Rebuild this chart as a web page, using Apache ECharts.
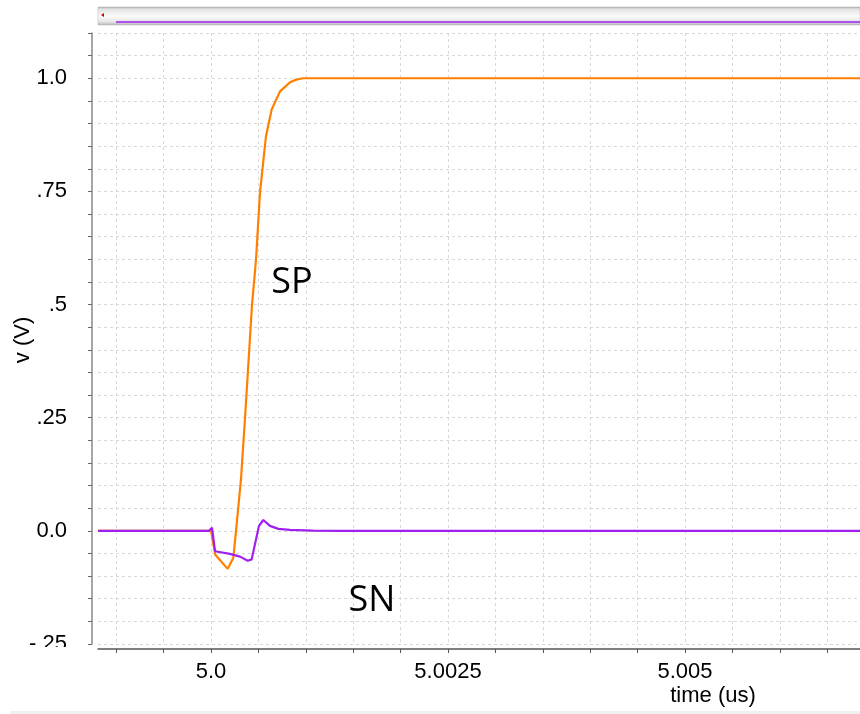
<!DOCTYPE html>
<html>
<head>
<meta charset="utf-8">
<script src="https://cdn.jsdelivr.net/npm/echarts@6/dist/echarts.min.js"></script>
<style>html,body{margin:0;padding:0;background:#fff}#c{width:860px;height:714px}</style>
</head>
<body>
<div id="c"></div>
<script>
// ---- data (time in us, voltage in V) ----
var spTime = [4.998808, 5.0, 5.00001, 5.0000454, 5.000176, 5.000235, 5.000264, 5.000316, 5.000359, 5.000433, 5.000475, 5.000517, 5.00058, 5.00064, 5.000728, 5.000833, 5.0009, 5.00097, 5.006846];
var spVolt = [0, 0, 0, -0.053, -0.084, -0.06, 0, 0.113, 0.25, 0.5, 0.6, 0.748, 0.872, 0.931, 0.971, 0.991, 0.997, 1.0, 1.0];
var snTime = [4.998808, 4.999979, 5.0000105, 5.0000422, 5.0000527, 5.0002, 5.000306, 5.000387, 5.000429, 5.000506, 5.000552, 5.000622, 5.00071, 5.000833, 5.001076, 5.001361, 5.006846];
var snVolt = [0, 0, 0.007, -0.045, -0.047, -0.051, -0.057, -0.066, -0.063, 0.011, 0.024, 0.011, 0.0044, 0.002, 0.0007, 0, 0];

var xTickValues = [5.0, 5.0025, 5.005];
var xTickLabels = ['5.0', '5.0025', '5.005'];
var yTickValues = [-0.25, 0, 0.25, 0.5, 0.75, 1.0];
var yTickLabels = ['-.25', '0.0', '.25', '.5', '.75', '1.0'];

var xMin = 4.998808, xMax = 5.006846, xStep = 0.0005;
var yMin = -0.25, yMax = 1.1, yStep = 0.05;

function steps(from, step, lo, hi) {
  var out = [];
  for (var k = Math.ceil((lo - from) / step - 1e-9); from + k * step <= hi + 1e-12; k++) {
    out.push(Math.round((from + k * step) * 1e7) / 1e7);
  }
  return out;
}
var xMinorTicks = steps(5.0, xStep, xMin, xMax);
var yMinorTicks = steps(0, yStep, yMin, yMax);

function pairs(xs, ys) { return xs.map(function (x, i) { return [x, ys[i]]; }); }
function labelFor(vals, labels) {
  return function (v) {
    for (var i = 0; i < vals.length; i++) if (Math.abs(vals[i] - v) < 1e-9) return labels[i];
    return '';
  };
}

var FONT = '"Liberation Sans", Arial, sans-serif';
var chart = echarts.init(document.getElementById('c'), null, {renderer: 'canvas'});
chart.setOption({
  animation: false,
  backgroundColor: '#ffffff',
  grid: {left: 98, top: 33, right: 0, bottom: 70, containLabel: false, outerBoundsMode: 'none'},
  xAxis: {
    type: 'value', min: xMin, max: xMax, offset: 5,
    axisLine: {show: true, onZero: false, lineStyle: {color: '#555', width: 1.5}},
    axisTick: {show: true, inside: false, length: 4, customValues: xMinorTicks, lineStyle: {color: '#555', width: 1}},
    axisLabel: {show: true, customValues: xTickValues, formatter: labelFor(xTickValues, xTickLabels),
      color: '#000', fontSize: 22, fontFamily: FONT, margin: 12, hideOverlap: false, showMinLabel: true, showMaxLabel: true},
    splitLine: {show: true, lineStyle: {color: '#d8d8d8', type: [3, 3], width: 1}}
  },
  yAxis: {
    type: 'value', min: yMin, max: yMax, offset: 6,
    axisLine: {show: true, onZero: false, lineStyle: {color: '#888', width: 1.5}},
    axisTick: {show: true, inside: false, length: 4, customValues: yMinorTicks, lineStyle: {color: '#666', width: 1}},
    axisLabel: {show: true, customValues: yTickValues, formatter: labelFor(yTickValues, yTickLabels),
      color: '#000', fontSize: 22, fontFamily: FONT, margin: 25, hideOverlap: false, showMinLabel: true, showMaxLabel: true},
    splitLine: {show: true, lineStyle: {color: '#d8d8d8', type: [3, 3], width: 1}}
  },
  series: [
    {name: 'SP', type: 'line', data: pairs(spTime, spVolt), showSymbol: false, symbol: 'none',
      lineStyle: {color: '#ff8000', width: 2.2}, itemStyle: {color: '#ff8000'}, z: 3},
    {name: 'SN', type: 'line', data: pairs(snTime, snVolt), showSymbol: false, symbol: 'none',
      lineStyle: {color: '#a020f0', width: 2.2}, itemStyle: {color: '#a020f0'}, z: 4}
  ],
  graphic: [
    {type: 'rect', shape: {x: 98, y: 7, width: 762, height: 18}, z: 10,
      style: {fill: new echarts.graphic.LinearGradient(0, 0, 0, 1, [
        {offset: 0, color: '#a8a8a8'}, {offset: 0.12, color: '#e2e2e2'}, {offset: 0.5, color: '#fbfbfb'},
        {offset: 0.82, color: '#e4e4e4'}, {offset: 1, color: '#b4b4b4'}]), stroke: '#b0b0b0', lineWidth: 0.5}},
    {type: 'line', shape: {x1: 116, y1: 22, x2: 860, y2: 22}, z: 11, style: {stroke: '#a020f0', lineWidth: 1.5}},
    {type: 'polygon', shape: {points: [[101, 15], [104, 13], [104, 17]]}, z: 11, style: {fill: '#cc0000'}},
    {type: 'rect', shape: {x: 30, y: 647, width: 57, height: 20}, z: 50, style: {fill: '#ffffff'}},
    {type: 'rect', shape: {x: 10, y: 711, width: 850, height: 3}, z: 10, style: {fill: '#f0f0f0'}},
    {type: 'text', x: 23, y: 340, rotation: Math.PI / 2, z: 20, style: {text: 'v (V)', fontSize: 22, fontFamily: FONT, fill: '#000', textAlign: 'center', textVerticalAlign: 'middle'}},
    {type: 'text', x: 292, y: 283, z: 20, style: {text: 'SP', fontSize: 36, fontFamily: '"Open Sans", "Noto Sans", sans-serif', fill: '#000', textAlign: 'center', textVerticalAlign: 'middle'}},
    {type: 'text', x: 372, y: 601, z: 20, style: {text: 'SN', fontSize: 36, fontFamily: '"Open Sans", "Noto Sans", sans-serif', fill: '#000', textAlign: 'center', textVerticalAlign: 'middle'}},
    {type: 'text', x: 713, y: 696, z: 20, style: {text: 'time (us)', fontSize: 22, fontFamily: FONT, fill: '#000', textAlign: 'center', textVerticalAlign: 'middle'}}
  ]
});
</script>
</body>
</html>
